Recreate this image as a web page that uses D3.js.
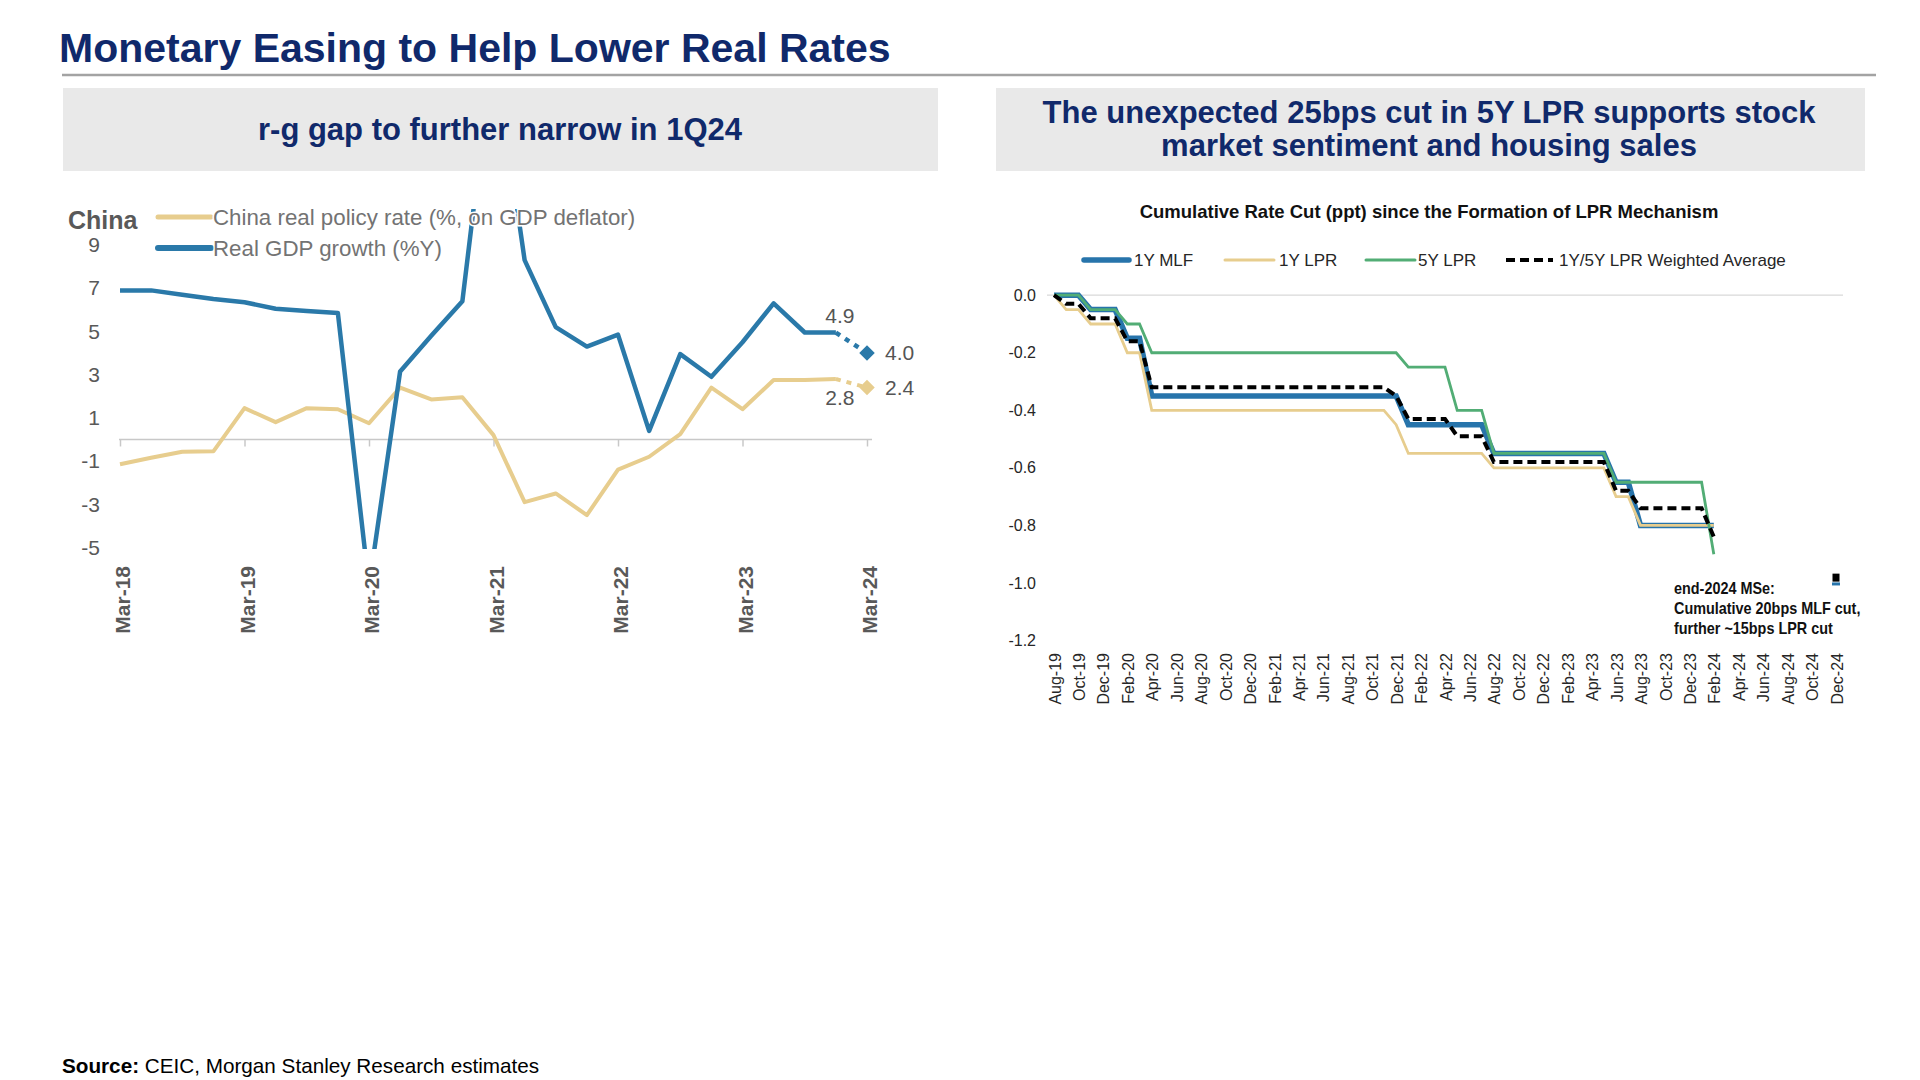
<!DOCTYPE html>
<html>
<head>
<meta charset="utf-8">
<script src="https://cdn.jsdelivr.net/npm/d3@7"></script>
<style>
  body { margin: 0; background: #fff; }
  svg { display: block; font-family: "Liberation Sans", Arial, sans-serif; }
</style>
</head>
<body>
<div id="page"></div>
<script>
// ---- left panel: quarterly, 1Q18 .. 4Q23 actual, 1Q24 forecast ----
const yearTickLabels = ["Mar-18", "Mar-19", "Mar-20", "Mar-21", "Mar-22", "Mar-23", "Mar-24"];
const realGdpGrowth = [6.9, 6.9, 6.7, 6.5, 6.35, 6.05, 5.95, 5.85, -6.8, 3.15, 4.8, 6.4,
                       18.3, 8.3, 5.2, 4.3, 4.85, 0.4, 3.95, 2.9, 4.5, 6.3, 4.95, 4.95];
const realPolicyRate = [-1.15, -0.85, -0.57, -0.55, 1.45, 0.8, 1.45, 1.4, 0.75, 2.4, 1.85, 1.95,
                        0.2, -2.9, -2.5, -3.5, -1.4, -0.8, 0.25, 2.4, 1.4, 2.75, 2.75, 2.8];
const forecastValues = [4.0, 2.4];          // gdp, policy rate for 1Q24
const lastLabels = ["4.9", "2.8"];
const forecastLabels = ["4.0", "2.4"];
const leftYTicks = [-5, -3, -1, 1, 3, 5, 7, 9];

// ---- right panel: monthly cumulative cuts, Aug-19 .. Feb-24 ----
const monthTickLabels = ["Aug-19", "Oct-19", "Dec-19", "Feb-20", "Apr-20", "Jun-20", "Aug-20", "Oct-20",
  "Dec-20", "Feb-21", "Apr-21", "Jun-21", "Aug-21", "Oct-21", "Dec-21", "Feb-22", "Apr-22", "Jun-22",
  "Aug-22", "Oct-22", "Dec-22", "Feb-23", "Apr-23", "Jun-23", "Aug-23", "Oct-23", "Dec-23", "Feb-24",
  "Apr-24", "Jun-24", "Aug-24", "Oct-24", "Dec-24"];
const mlf1y = [0, 0, 0, -0.05, -0.05, -0.05, -0.15, -0.15,
  -0.35, -0.35, -0.35, -0.35, -0.35, -0.35, -0.35, -0.35, -0.35, -0.35, -0.35, -0.35, -0.35, -0.35,
  -0.35, -0.35, -0.35, -0.35, -0.35, -0.35, -0.35,
  -0.45, -0.45, -0.45, -0.45, -0.45, -0.45, -0.45,
  -0.55, -0.55, -0.55, -0.55, -0.55, -0.55, -0.55, -0.55, -0.55, -0.55,
  -0.65, -0.65, -0.8, -0.8, -0.8, -0.8, -0.8, -0.8, -0.8];
const lpr1y = [0, -0.05, -0.05, -0.1, -0.1, -0.1, -0.2, -0.2,
  -0.4, -0.4, -0.4, -0.4, -0.4, -0.4, -0.4, -0.4, -0.4, -0.4, -0.4, -0.4, -0.4, -0.4,
  -0.4, -0.4, -0.4, -0.4, -0.4, -0.4, -0.45,
  -0.55, -0.55, -0.55, -0.55, -0.55, -0.55, -0.55,
  -0.6, -0.6, -0.6, -0.6, -0.6, -0.6, -0.6, -0.6, -0.6, -0.6,
  -0.7, -0.7, -0.8, -0.8, -0.8, -0.8, -0.8, -0.8, -0.8];
const lpr5y = [0, 0, 0, -0.05, -0.05, -0.05, -0.1, -0.1,
  -0.2, -0.2, -0.2, -0.2, -0.2, -0.2, -0.2, -0.2, -0.2, -0.2, -0.2, -0.2, -0.2, -0.2,
  -0.2, -0.2, -0.2, -0.2, -0.2, -0.2, -0.2,
  -0.25, -0.25, -0.25, -0.25, -0.4, -0.4, -0.4,
  -0.55, -0.55, -0.55, -0.55, -0.55, -0.55, -0.55, -0.55, -0.55, -0.55,
  -0.65, -0.65, -0.65, -0.65, -0.65, -0.65, -0.65, -0.65, -0.9];
const lprWeighted = [0, -0.03, -0.03, -0.08, -0.08, -0.08, -0.16, -0.16,
  -0.32, -0.32, -0.32, -0.32, -0.32, -0.32, -0.32, -0.32, -0.32, -0.32, -0.32, -0.32, -0.32, -0.32,
  -0.32, -0.32, -0.32, -0.32, -0.32, -0.32, -0.35,
  -0.43, -0.43, -0.43, -0.43, -0.49, -0.49, -0.49,
  -0.58, -0.58, -0.58, -0.58, -0.58, -0.58, -0.58, -0.58, -0.58, -0.58,
  -0.68, -0.68, -0.74, -0.74, -0.74, -0.74, -0.74, -0.74, -0.84];
const end2024Month = 64;                 // Dec-24, months after Aug-19
const end2024Values = [-0.985, -1.0];    // weighted avg, MLF
const rightYTicks = [0, -0.2, -0.4, -0.6, -0.8, -1.0, -1.2];

const navy = "#10296b";
const gdpBlue = "#2a79a9";
const rateTan = "#e7cd8e";
const mlfBlue = "#2774ab";
const lprGreen = "#52ad75";

const svg = d3.select("#page").append("svg")
  .attr("width", 1920).attr("height", 1080);

// page title + rule
svg.append("text").attr("x", 59).attr("y", 62)
  .attr("font-size", 41).attr("font-weight", "bold").attr("fill", navy)
  .text("Monetary Easing to Help Lower Real Rates");
svg.append("line").attr("x1", 62).attr("x2", 1876).attr("y1", 75).attr("y2", 75)
  .attr("stroke", "#a3a3a3").attr("stroke-width", 2.5);

// panel headers
svg.append("rect").attr("x", 63).attr("y", 88).attr("width", 875).attr("height", 83).attr("fill", "#e9e9e9");
svg.append("rect").attr("x", 996).attr("y", 88).attr("width", 869).attr("height", 83).attr("fill", "#e9e9e9");
svg.append("text").attr("x", 500).attr("y", 140).attr("text-anchor", "middle")
  .attr("font-size", 31).attr("font-weight", "bold").attr("fill", navy)
  .text("r-g gap to further narrow in 1Q24");
const rh = svg.append("text").attr("text-anchor", "middle")
  .attr("font-size", 31).attr("font-weight", "bold").attr("fill", navy);
rh.append("tspan").attr("x", 1429).attr("y", 123).text("The unexpected 25bps cut in 5Y LPR supports stock");
rh.append("tspan").attr("x", 1429).attr("y", 156).text("market sentiment and housing sales");

// ================= left chart =================
const xL = d3.scaleLinear().domain([0, 24]).range([120, 867]);
const yL = d3.scaleLinear().domain([-5, 9]).range([547.5, 245]);
const gray = "#595959";
const plain = d => String(d);   // keep ascii hyphen for negatives

svg.append("clipPath").attr("id", "clipL")
  .append("rect").attr("x", 100).attr("y", 209).attr("width", 800).attr("height", 340);

// zero line with year ticks
const xAxisL = svg.append("g").attr("transform", `translate(0,${yL(0)})`)
  .call(d3.axisBottom(xL).tickValues(d3.range(0, 25, 4)).tickSize(7).tickFormat("").tickSizeOuter(0));
xAxisL.select(".domain").attr("stroke", "#c8c8c8").attr("stroke-width", 1.5)
  .attr("d", `M${xL(0) - 1},0H${xL(24) + 5}`);
xAxisL.selectAll(".tick line").attr("stroke", "#c8c8c8").attr("stroke-width", 1.5);

// y labels
const yAxisL = svg.append("g").attr("transform", "translate(100,0)")
  .call(d3.axisLeft(yL).tickValues(leftYTicks).tickSize(0).tickPadding(0).tickFormat(plain));
yAxisL.select(".domain").remove();
yAxisL.selectAll("text").attr("font-size", 21).attr("fill", gray)
  .attr("font-family", "Liberation Sans, Arial, sans-serif");

// x labels (rotated)
svg.append("g").selectAll("text").data(yearTickLabels).join("text")
  .attr("transform", (d, i) => `translate(${xL(i * 4) + 3},566) rotate(-90)`)
  .attr("text-anchor", "end").attr("dy", "0.35em")
  .attr("font-size", 21).attr("font-weight", "bold").attr("fill", gray)
  .text(d => d);

const lineL = d3.line().x((d, i) => xL(i)).y(d => yL(d));
const plotL = svg.append("g").attr("clip-path", "url(#clipL)");
plotL.append("path").datum(realPolicyRate).attr("d", lineL)
  .attr("fill", "none").attr("stroke", rateTan).attr("stroke-width", 4).attr("stroke-linejoin", "round");
plotL.append("path").datum(realGdpGrowth).attr("d", lineL)
  .attr("fill", "none").attr("stroke", gdpBlue).attr("stroke-width", 4.5).attr("stroke-linejoin", "round");

// dashed forecast leg + diamonds
[realGdpGrowth, realPolicyRate].forEach((s, k) => {
  const col = k === 0 ? gdpBlue : rateTan;
  svg.append("line")
    .attr("x1", xL(23)).attr("y1", yL(s[23])).attr("x2", xL(24)).attr("y2", yL(forecastValues[k]))
    .attr("stroke", col).attr("stroke-width", k === 0 ? 4.5 : 4).attr("stroke-dasharray", "5,6");
  svg.append("path")
    .attr("d", d3.symbol(d3.symbolSquare, 120)())
    .attr("transform", `translate(${xL(24)},${yL(forecastValues[k])}) rotate(45)`)
    .attr("fill", col);
});

// data labels
const lblStyle = sel => sel.attr("font-size", 21).attr("fill", "#555");
svg.append("text").attr("x", xL(23) + 4).attr("y", yL(realGdpGrowth[23]) - 10)
  .attr("text-anchor", "middle").call(lblStyle).text(lastLabels[0]);
svg.append("text").attr("x", xL(23) + 4).attr("y", yL(realPolicyRate[23]) + 26)
  .attr("text-anchor", "middle").call(lblStyle).text(lastLabels[1]);
svg.append("text").attr("x", xL(24) + 18).attr("y", yL(forecastValues[0]) + 7)
  .call(lblStyle).text(forecastLabels[0]);
svg.append("text").attr("x", xL(24) + 18).attr("y", yL(forecastValues[1]) + 7)
  .call(lblStyle).text(forecastLabels[1]);

// legend
svg.append("text").attr("x", 68).attr("y", 229)
  .attr("font-size", 25).attr("font-weight", "bold").attr("fill", gray).text("China");
const legL = [
  {label: "China real policy rate (%, on GDP deflator)", color: rateTan, w: 5, y: 217},
  {label: "Real GDP growth (%Y)", color: gdpBlue, w: 6, y: 248}
];
legL.forEach(d => {
  svg.append("line").attr("x1", 158).attr("x2", 211).attr("y1", d.y).attr("y2", d.y)
    .attr("stroke", d.color).attr("stroke-width", d.w).attr("stroke-linecap", "round");
  svg.append("text").attr("x", 213).attr("y", d.y + 8)
    .attr("font-size", 22.3).attr("fill", "#737373")
    .attr("stroke", "#fff").attr("stroke-width", 3).attr("paint-order", "stroke")
    .text(d.label);
});

// ================= right chart =================
const xR = d3.scaleLinear().domain([0, 64]).range([1054, 1836]);
const yR = d3.scaleLinear().domain([-1.2, 0]).range([640.5, 295.2]);
const ink = "#262626";

svg.append("text").attr("x", 1429).attr("y", 218).attr("text-anchor", "middle")
  .attr("font-size", 18.5).attr("font-weight", "bold").attr("fill", "#111")
  .text("Cumulative Rate Cut (ppt) since the Formation of LPR Mechanism");

// zero grid line
svg.append("line").attr("x1", 1047).attr("x2", 1843).attr("y1", yR(0)).attr("y2", yR(0))
  .attr("stroke", "#d9d9d9").attr("stroke-width", 1.3);

const yAxisR = svg.append("g").attr("transform", "translate(1036,0)")
  .call(d3.axisLeft(yR).tickValues(rightYTicks).tickSize(0).tickPadding(0).tickFormat(d => d.toFixed(1)));
yAxisR.select(".domain").remove();
yAxisR.selectAll("text").attr("font-size", 16).attr("fill", ink)
  .attr("font-family", "Liberation Sans, Arial, sans-serif");

svg.append("g").selectAll("text").data(monthTickLabels).join("text")
  .attr("transform", (d, i) => `translate(${xR(i * 2) + 1},653) rotate(-90)`)
  .attr("text-anchor", "end").attr("dy", "0.35em")
  .attr("font-size", 16).attr("fill", ink)
  .text(d => d);

const lineR = d3.line().x((d, i) => xR(i)).y(d => yR(d));
const seriesR = [
  {data: mlf1y, color: mlfBlue, w: 5.5},
  {data: lpr1y, color: rateTan, w: 2.8},
  {data: lpr5y, color: lprGreen, w: 2.8},
  {data: lprWeighted, color: "#000", w: 4, dash: "9,5"}
];
seriesR.forEach(s => {
  svg.append("path").datum(s.data).attr("d", lineR)
    .attr("fill", "none").attr("stroke", s.color).attr("stroke-width", s.w)
    .attr("stroke-dasharray", s.dash || null);
});

// end-2024 estimate markers
svg.append("rect").attr("x", xR(end2024Month) - 3.5).attr("y", yR(end2024Values[0]) - 5)
  .attr("width", 7).attr("height", 8).attr("fill", "#000");
svg.append("rect").attr("x", xR(end2024Month) - 4).attr("y", yR(end2024Values[1]) - 0.5)
  .attr("width", 8).attr("height", 3).attr("fill", mlfBlue);

const note = svg.append("text").attr("font-size", 16).attr("font-weight", "bold").attr("fill", "#111")
  .attr("transform", "translate(1674,0) scale(0.9,1)");
["end-2024 MSe:", "Cumulative 20bps MLF cut,", "further ~15bps LPR cut"].forEach((t, i) => {
  note.append("tspan").attr("x", 0).attr("y", 594 + i * 20).text(t);
});

// legend
const legR = [
  {label: "1Y MLF", color: mlfBlue, w: 5.5, x: 1084, x2: 1129, tx: 1134},
  {label: "1Y LPR", color: rateTan, w: 3, x: 1225, x2: 1274, tx: 1279},
  {label: "5Y LPR", color: lprGreen, w: 3, x: 1366, x2: 1415, tx: 1418},
  {label: "1Y/5Y LPR Weighted Average", color: "#000", w: 4, x: 1506, x2: 1553, tx: 1559, dash: "9,5"}
];
legR.forEach(d => {
  svg.append("line").attr("x1", d.x).attr("x2", d.x2).attr("y1", 260).attr("y2", 260)
    .attr("stroke", d.color).attr("stroke-width", d.w)
    .attr("stroke-linecap", d.dash ? "butt" : "round").attr("stroke-dasharray", d.dash || null);
  svg.append("text").attr("x", d.tx).attr("y", 266)
    .attr("font-size", 17).attr("fill", ink).text(d.label);
});

// source
const src = svg.append("text").attr("x", 62).attr("y", 1073).attr("font-size", 20.7).attr("fill", "#000");
src.append("tspan").attr("font-weight", "bold").text("Source:");
src.append("tspan").text(" CEIC, Morgan Stanley Research estimates");
</script>
</body>
</html>
